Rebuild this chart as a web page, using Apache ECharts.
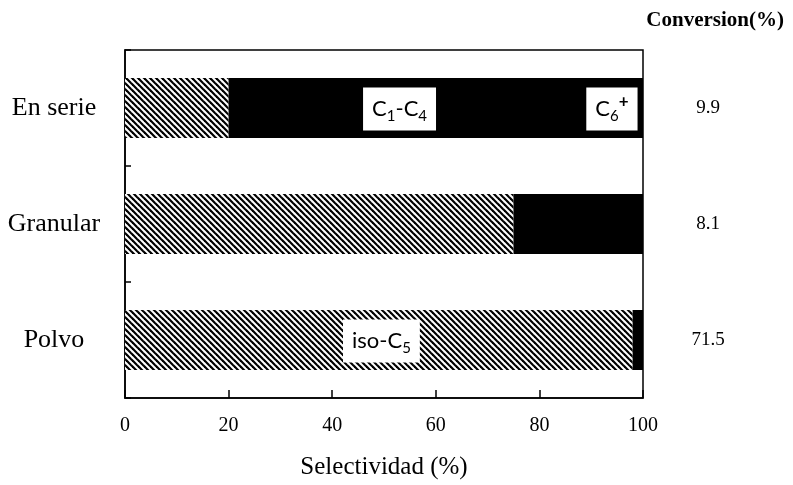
<!DOCTYPE html>
<html>
<head>
<meta charset="utf-8">
<script src="https://cdn.jsdelivr.net/npm/echarts@6/dist/echarts.min.js"></script>
<style>html,body{margin:0;padding:0;background:#fff;}#c{width:793px;height:485px;}</style>
</head>
<body>
<div id="c"></div>
<script>
// ---- data ----
const categories = ['En serie', 'Granular', 'Polvo'];
const isoC5 = [20, 75, 98];          // hatched segment (%)
const others = [80, 25, 2];          // black segment (C1-C4 + C6+) (%)
const conversion = ['9.9', '8.1', '71.5'];
const xTicks = [0, 20, 40, 60, 80, 100];
const annotations = [
  { text: 'C{s|1}-C{s|4}', x: 53, cat: 'En serie' },
  { text: 'C{s|6}{p|+}', x: 94, cat: 'En serie' },
  { text: 'iso-C{s|5}', x: 49.5, cat: 'Polvo' }
];

function hatch() {
  const c = document.createElement('canvas');
  c.width = 6; c.height = 6;
  const ctx = c.getContext('2d');
  ctx.fillStyle = '#fff'; ctx.fillRect(0, 0, 6, 6);
  ctx.strokeStyle = '#000'; ctx.lineWidth = 2.2;
  for (const o of [-6, 0, 6]) {
    ctx.beginPath(); ctx.moveTo(o - 1, -1); ctx.lineTo(o + 7, 7); ctx.stroke();
  }
  return c;
}

const serif = 'Liberation Serif';
const sans = 'Lato';
const chart = echarts.init(document.getElementById('c'), null, { renderer: 'canvas' });

chart.setOption({
  animation: false,
  backgroundColor: '#fff',
  title: {
    text: 'Conversion(%)', right: 4, top: 5,
    textStyle: { fontFamily: serif, fontSize: 21, fontWeight: 'bold', color: '#000' }
  },
  grid: { left: 125, right: 150, top: 50, bottom: 82, show: true, borderColor: '#000', borderWidth: 1.5, backgroundColor: 'transparent' },
  xAxis: {
    type: 'value', min: 0, max: 100, interval: 20,
    name: 'Selectividad (%)', nameLocation: 'middle', nameGap: 57,
    nameTextStyle: { fontFamily: serif, fontSize: 25, color: '#000' },
    axisLine: { show: true, lineStyle: { color: '#000', width: 1.5 } },
    axisTick: { show: true, inside: true, length: 8, lineStyle: { color: '#000', width: 1.5 } },
    splitLine: { show: false },
    axisLabel: { fontFamily: serif, fontSize: 20, color: '#000', margin: 18,
      formatter: v => xTicks.includes(v) ? String(v) : '' }
  },
  yAxis: [{
    type: 'category', data: categories, inverse: true,
    axisLine: { show: true, lineStyle: { color: '#000', width: 1.5 } },
    axisTick: { show: true, inside: true, length: 6, lineStyle: { color: '#000', width: 1.5 } },
    axisLabel: { fontFamily: serif, fontSize: 26, color: '#000', align: 'center', margin: 71 }
  }, {
    type: 'category', data: conversion, inverse: true, position: 'right',
    axisLine: { show: false }, axisTick: { show: false },
    axisLabel: { fontFamily: serif, fontSize: 19, color: '#000', align: 'center', margin: 65, padding: [0, 0, 5, 0] }
  }],
  series: [{
    name: 'iso-C5', type: 'bar', stack: 's', barWidth: 60,
    data: isoC5,
    itemStyle: { color: { image: hatch(), repeat: 'repeat' } }
  }, {
    name: 'C1-C4 / C6+', type: 'bar', stack: 's', barWidth: 60,
    data: others,
    itemStyle: { color: '#000' }
  }, {
    type: 'scatter', symbolSize: 0, z: 10, silent: true,
    itemStyle: { opacity: 1 },
    emphasis: { disabled: true },
    data: annotations.map(a => ({ value: [a.x, a.cat], name: a.text })),
    label: {
      show: true, position: 'inside', offset: [0, 1],
      formatter: p => p.name,
      fontSize: 22, fontFamily: sans, color: '#000', lineHeight: 30,
      backgroundColor: '#fff', padding: [6, 9, 7, 9],
      rich: {
        s: { fontSize: 15, fontFamily: sans, color: '#000', lineHeight: 30, verticalAlign: 'bottom' },
        p: { fontSize: 17, fontFamily: sans, color: '#000', fontWeight: 'bold', lineHeight: 30, verticalAlign: 'top' }
      }
    }
  }]
});
</script>
</body>
</html>
